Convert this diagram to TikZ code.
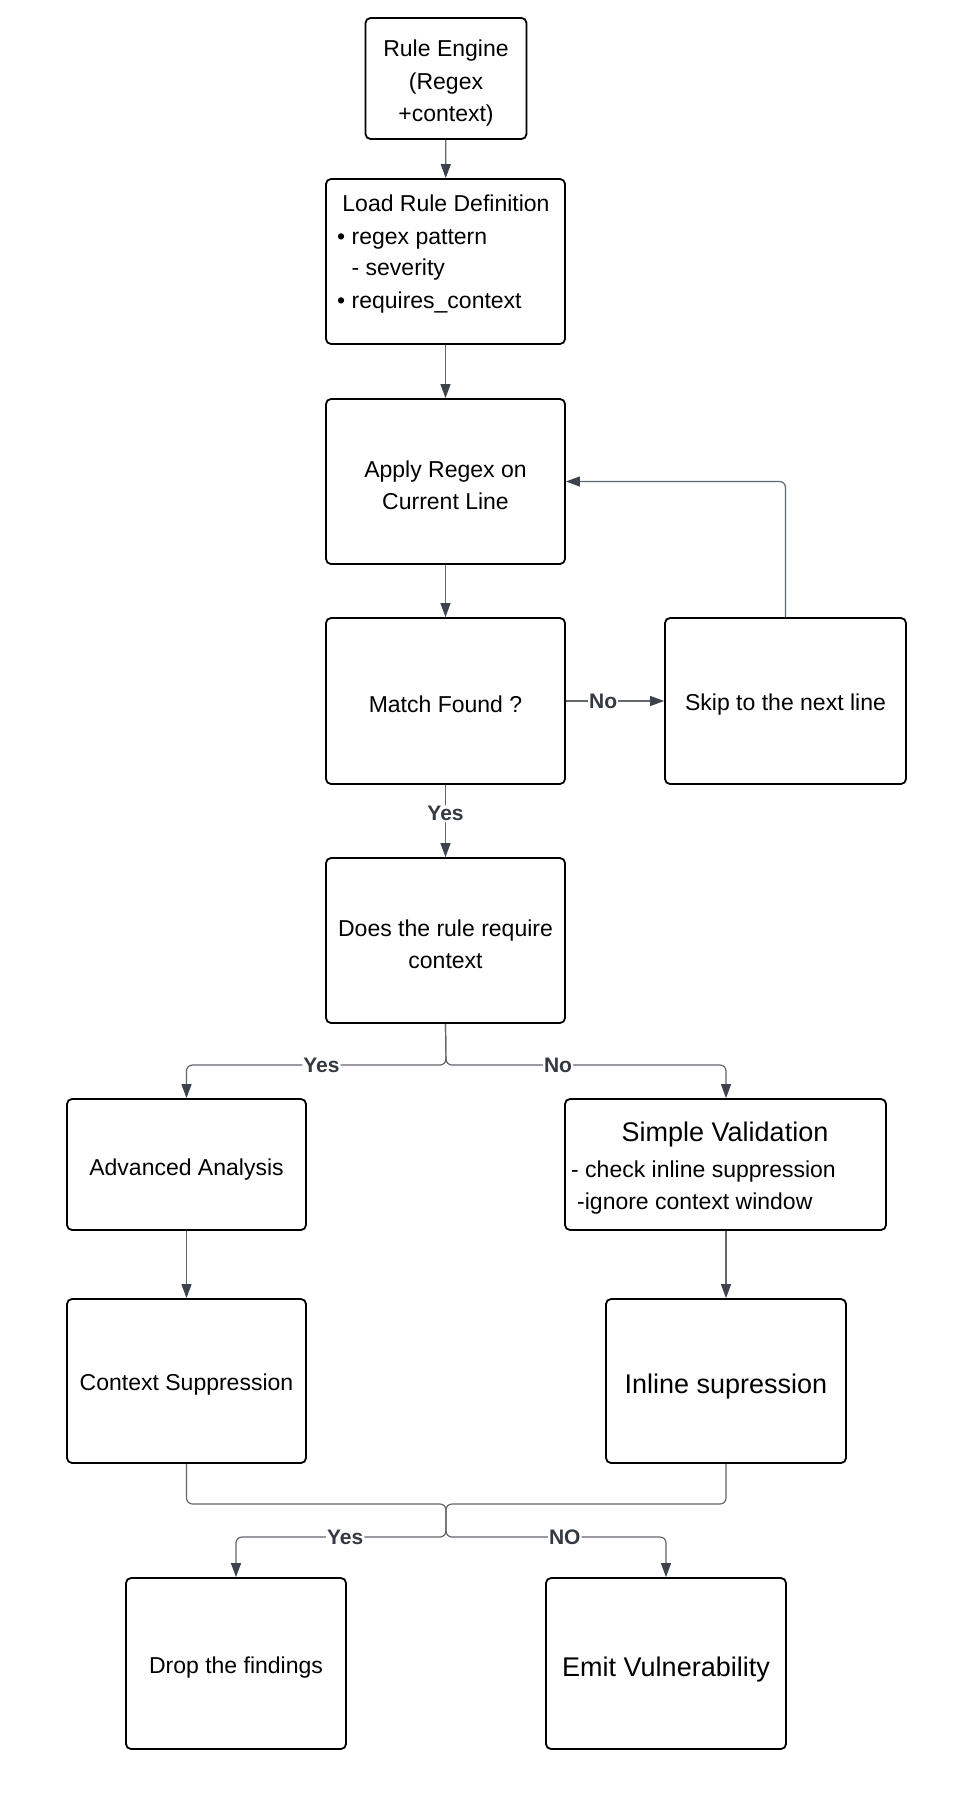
\documentclass[tikz,border=0pt]{standalone}
\usepackage{fontspec}
\setmainfont{Liberation Sans}
\usetikzlibrary{arrows.meta}
\definecolor{lineg}{HTML}{62666D}
\definecolor{tipg}{HTML}{3D434C}
\definecolor{lblg}{HTML}{343A42}
\newcommand\boxstrut{\rule{0pt}{24pt}}
\newcommand\bigstrut{\rule{0pt}{31pt}}
\begin{document}
\begin{tikzpicture}[x=1pt,y=-1pt,
  box/.style={draw=black, line width=1.8pt, rounded corners=5pt, inner sep=0pt, align=center, font=\fontsize{23}{32.5}\selectfont},
  txt/.style={inner sep=0pt, font=\fontsize{23}{32.5}\selectfont},
  bigtxt/.style={font=\fontsize{27}{32.5}\selectfont},
  conn/.style={draw=lineg, line width=1.2pt, rounded corners=6pt, -{Triangle[length=14pt,width=10pt,color=tipg]}},
  lbl/.style={fill=white, font=\bfseries\fontsize{21}{21}\selectfont, text=lblg, inner sep=1pt}]
\useasboundingbox (0,0) rectangle (962,1803);

\node[box, minimum width=161pt, minimum height=121pt] (re) at (446,78.5) {\rule{0pt}{26pt}Rule Engine\\(Regex\\+context)};
\node[box, minimum width=239pt, minimum height=165pt] (lrd) at (445.5,261.5) {};
\node[txt, anchor=base] (lrdt) at (446,212) {Load Rule Definition};
\node[txt, anchor=base west] (lrd1) at (337,244) {• regex pattern};
\node[txt, anchor=base west] (lrd2) at (337,276) {\phantom{•} - severity};
\node[txt, anchor=base west] (lrd3) at (337,308) {• requires\_context};

\node[box, minimum width=239pt, minimum height=165pt] (apply) at (445.5,481.5) {\boxstrut Apply Regex on\\Current Line};
\node[box, minimum width=239pt, minimum height=166pt] (match) at (445.5,701) {\boxstrut Match Found ?};
\node[box, minimum width=241pt, minimum height=166pt] (skip) at (785.5,701) {\boxstrut Skip to the next line};
\node[box, minimum width=239pt, minimum height=165pt] (does) at (445.5,940.5) {\boxstrut Does the rule require\\context};

\node[box, minimum width=239pt, minimum height=131pt] (adv) at (186.5,1164.5) {\rule{0pt}{27pt}Advanced Analysis};
\node[box, minimum width=321pt, minimum height=131pt] (simple) at (725.5,1164.5) {};
\node[txt, bigtxt, anchor=base] (simplet) at (725,1141) {Simple Validation};
\node[txt, anchor=base west] (simple1) at (571,1177) {- check inline suppression};
\node[txt, anchor=base west] (simple2) at (577,1209) {-ignore context window};

\node[box, minimum width=239pt, minimum height=164pt] (ctx) at (186.5,1381) {\boxstrut Context Suppression};
\node[box, bigtxt, minimum width=240pt, minimum height=164pt] (inl) at (726,1381) {\bigstrut Inline supression};

\node[box, minimum width=220pt, minimum height=171pt] (drop) at (236,1663.5) {\boxstrut Drop the findings};
\node[box, bigtxt, minimum width=240pt, minimum height=171pt] (emit) at (666,1663.5) {\bigstrut Emit Vulnerability};

\coordinate (j1) at (446,1065);
\coordinate (m1) at (446,1504);
\coordinate (m2) at (446,1537);

\draw[conn] (re) -- (lrd);
\draw[conn] (lrd) -- (apply);
\draw[conn] (apply) -- (match);
\draw[conn] (match.east) -- node[lbl, pos=0.38] {No} (skip.west);
\draw[conn] (skip.north) |- (apply.east);
\draw[conn] (match.south) -- node[lbl, pos=0.4] {Yes} (does.north);

\draw[conn] (does.south) -- (j1) -| node[lbl, pos=0.24] {Yes} (adv.north);
\draw[conn] (does.south) -- (j1) -| node[lbl, pos=0.2] {No} (simple.north -| inl.north);

\draw[conn] (adv) -- (ctx);
\draw[conn] (simple.south -| inl.north) -- (inl.north);

\draw[conn] (ctx.south) |- (m1) -- (m2) -| node[lbl, pos=0.24] {Yes} (drop.north);
\draw[conn] (inl.south) |- (m1) -- (m2) -| node[lbl, pos=0.27] {NO} (emit.north);
\end{tikzpicture}
\end{document}
